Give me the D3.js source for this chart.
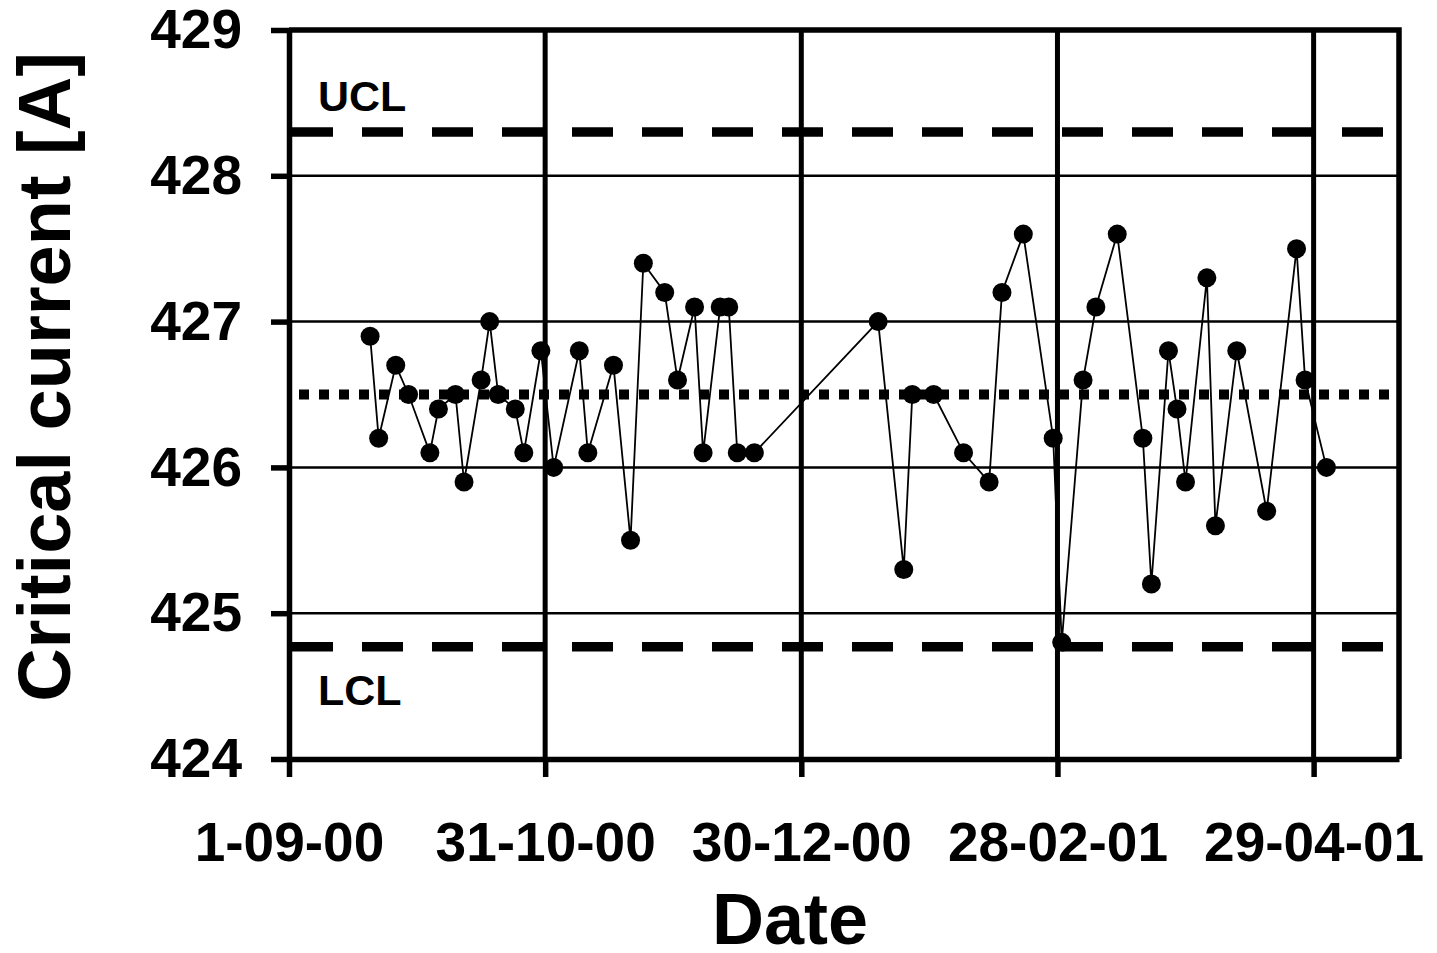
<!DOCTYPE html>
<html>
<head>
<meta charset="utf-8">
<script src="https://cdn.jsdelivr.net/npm/d3@7"></script>
<style>
    body { margin: 0; background: #fff; }
    text { font-family: Arial, "Liberation Sans", sans-serif; font-weight: bold; fill: #000; }
</style>
</head>
<body>
<div class="chart-container"></div>
<script>
// measurement dates (yyyy-mm-dd) and critical current [A]
const dates = [
    "2000-09-20", "2000-09-22", "2000-09-26", "2000-09-29", "2000-10-04", "2000-10-06",
    "2000-10-10", "2000-10-12", "2000-10-16", "2000-10-18", "2000-10-20", "2000-10-24",
    "2000-10-26", "2000-10-30", "2000-11-02", "2000-11-08", "2000-11-10", "2000-11-16",
    "2000-11-20", "2000-11-23", "2000-11-28", "2000-12-01", "2000-12-05", "2000-12-07",
    "2000-12-11", "2000-12-13", "2000-12-15", "2000-12-19", "2001-01-17", "2001-01-23",
    "2001-01-25", "2001-01-30", "2001-02-06", "2001-02-12", "2001-02-15", "2001-02-20",
    "2001-02-27", "2001-03-01", "2001-03-06", "2001-03-09", "2001-03-14", "2001-03-20",
    "2001-03-22", "2001-03-26", "2001-03-28", "2001-03-30", "2001-04-04", "2001-04-06",
    "2001-04-11", "2001-04-18", "2001-04-25", "2001-04-27", "2001-05-02"
];
const values = [
    426.9, 426.2, 426.7, 426.5, 426.1, 426.4,
    426.5, 425.9, 426.6, 427.0, 426.5, 426.4,
    426.1, 426.8, 426.0, 426.8, 426.1, 426.7,
    425.5, 427.4, 427.2, 426.6, 427.1, 426.1,
    427.1, 427.1, 426.1, 426.1, 427.0, 425.3,
    426.5, 426.5, 426.1, 425.9, 427.2, 427.6,
    426.2, 424.8, 426.6, 427.1, 427.6, 426.2,
    425.2, 426.8, 426.4, 425.9, 427.3, 425.6,
    426.8, 425.7, 427.5, 426.6, 426.0
];

// axes
const xDomain = ["2000-09-01", "2001-05-19"];
const xTicks = ["2000-09-01", "2000-10-31", "2000-12-30", "2001-02-28", "2001-04-29"];
const yTicks = [424, 425, 426, 427, 428, 429];

// control limits
const limitNames = ["UCL", "LCL"];
const limitValues = [428.3, 424.77];
const centreLine = 426.5;

const parse = d3.utcParse("%Y-%m-%d");
const fmt = d3.utcFormat("%-d-%m-%y");

const data = dates.map((d, i) => ({ date: parse(d), value: values[i] }));

const svgWidth = 1437, svgHeight = 953;
const margin = { top: 30, left: 289, bottom: 194, right: 38 };

const svg = d3.select(".chart-container").append("svg")
    .attr("width", svgWidth)
    .attr("height", svgHeight);

//SCALES
const x = d3.scaleUtc()
    .domain(xDomain.map(parse))
    .range([margin.left, svgWidth - margin.right]);

const y = d3.scaleLinear()
    .domain([424, 429])
    .range([svgHeight - margin.bottom, margin.top]);

const plotLeft = x.range()[0], plotRight = x.range()[1];
const plotTop = y.range()[1], plotBottom = y.range()[0];

//HORIZONTAL GRID
svg.append("g")
    .selectAll("line")
    .data(yTicks.slice(1, -1))
    .join("line")
    .attr("x1", plotLeft).attr("x2", plotRight)
    .attr("y1", d => y(d)).attr("y2", d => y(d))
    .attr("stroke", "#000")
    .attr("stroke-width", 2.5);

//VERTICAL GRID
svg.append("g")
    .selectAll("line")
    .data(xTicks.slice(1).map(parse))
    .join("line")
    .attr("x1", d => x(d)).attr("x2", d => x(d))
    .attr("y1", plotTop).attr("y2", plotBottom)
    .attr("stroke", "#000")
    .attr("stroke-width", 5);

//TOP + RIGHT BORDER
svg.append("path")
    .attr("d", `M${plotLeft},${plotTop}H${plotRight}V${plotBottom}`)
    .attr("fill", "none")
    .attr("stroke", "#000")
    .attr("stroke-width", 5.5);

//CONTROL LIMITS
svg.append("g")
    .selectAll("line")
    .data(limitValues)
    .join("line")
    .attr("x1", plotLeft + 3).attr("x2", plotRight)
    .attr("y1", d => y(d)).attr("y2", d => y(d))
    .attr("stroke", "#000")
    .attr("stroke-width", 9.5)
    .attr("stroke-dasharray", "41,29");

svg.append("line")
    .attr("x1", plotLeft + 10).attr("x2", plotRight - 8)
    .attr("y1", y(centreLine)).attr("y2", y(centreLine))
    .attr("stroke", "#000")
    .attr("stroke-width", 10)
    .attr("stroke-dasharray", "10,10");

svg.append("g")
    .selectAll("text")
    .data(limitNames)
    .join("text")
    .attr("x", plotLeft + 29)
    .attr("y", (d, i) => i === 0 ? y(limitValues[i]) - 21 : y(limitValues[i]) + 58)
    .attr("font-size", 43)
    .text(d => d);

//AXES
const yAxis = d3.axisLeft(y)
    .tickValues(yTicks)
    .tickFormat(d3.format("d"))
    .tickSize(18)
    .tickSizeOuter(0)
    .tickPadding(29);

const xAxis = d3.axisBottom(x)
    .tickValues(xTicks.map(parse))
    .tickFormat(fmt)
    .tickSize(18)
    .tickSizeOuter(0)
    .tickPadding(45);

svg.append("g")
    .attr("transform", `translate(${plotLeft},0)`)
    .call(yAxis)
    .call(g => g.selectAll("text").attr("font-size", 55).attr("font-family", null))
    .call(g => g.selectAll("line, path").attr("stroke-width", 5.5));

svg.append("g")
    .attr("transform", `translate(0,${plotBottom})`)
    .call(xAxis)
    .call(g => g.selectAll("text").attr("font-size", 55).attr("font-family", null))
    .call(g => g.selectAll("line, path").attr("stroke-width", 5.5));

//DATA LINE
const line = d3.line()
    .x(d => x(d.date))
    .y(d => y(d.value));

svg.append("path")
    .datum(data)
    .attr("fill", "none")
    .attr("stroke", "#000")
    .attr("stroke-width", 1.8)
    .attr("d", line);

svg.append("g")
    .selectAll("circle")
    .data(data)
    .join("circle")
    .attr("cx", d => x(d.date))
    .attr("cy", d => y(d.value))
    .attr("r", 9.5)
    .attr("fill", "#000");

//AXIS TITLES
svg.append("text")
    .attr("x", (plotLeft + plotRight) / 2 - 54)
    .attr("y", 944)
    .attr("text-anchor", "middle")
    .attr("font-size", 72)
    .text("Date");

svg.append("text")
    .attr("transform", "translate(70,377) rotate(-90)")
    .attr("text-anchor", "middle")
    .attr("font-size", 74)
    .text("Critical current [A]");
</script>
</body>
</html>
